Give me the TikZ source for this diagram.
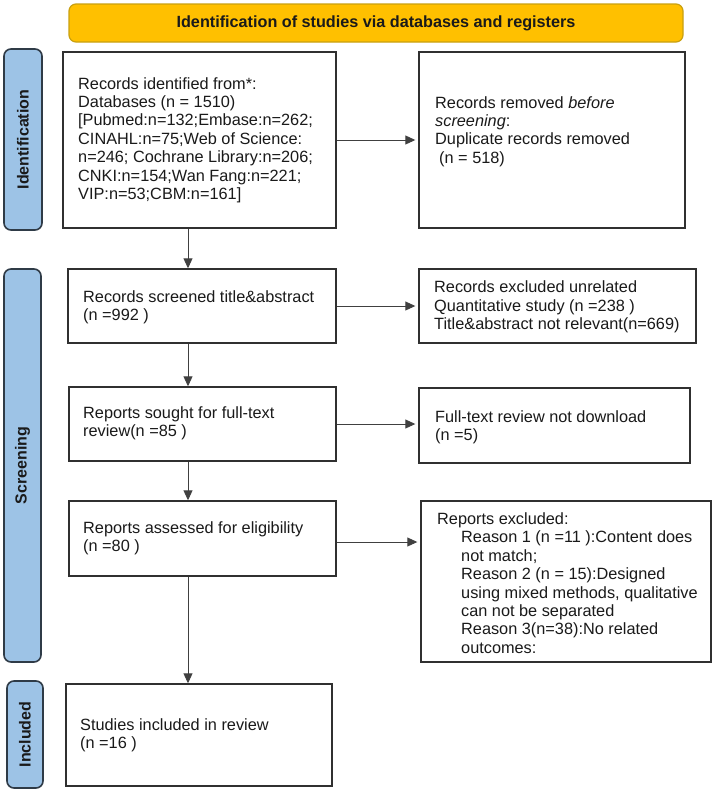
\documentclass[tikz,border=0pt]{standalone}
\usepackage{fontspec}
\setmainfont{Liberation Sans}
\usetikzlibrary{arrows.meta}
\definecolor{bannerfill}{HTML}{FFC000}
\definecolor{bannerline}{HTML}{C9A010}
\definecolor{sidefill}{HTML}{9DC3E6}
\definecolor{sideline}{HTML}{2F3B47}
\definecolor{boxline}{HTML}{303030}
\definecolor{arrline}{HTML}{404040}
\definecolor{txtcol}{HTML}{1A1A1A}
\begin{document}
\begin{tikzpicture}[x=1pt,y=-1pt,
  box/.style={draw=boxline, line width=1.4pt, fill=white, inner sep=0pt},
  banner/.style={draw=bannerline, line width=1.2pt, fill=bannerfill, rounded corners=7pt, inner sep=0pt,
     font=\bfseries\fontsize{16.2}{18.4}\selectfont, text=txtcol},
  side/.style={draw=sideline, line width=1.6pt, fill=sidefill, rounded corners=7pt, inner sep=0pt},
  sidetxt/.style={rotate=90, inner sep=0pt, font=\bfseries\fontsize{16}{18.4}\selectfont, text=txtcol},
  txt/.style={anchor=west, align=left, inner sep=0pt, font=\fontsize{16.3}{18.4}\selectfont, text=txtcol},
  arr/.style={draw=arrline, line width=0.9pt, -{Triangle[length=10pt,width=9pt]}}]
\useasboundingbox (0,0) rectangle (714,793);
\fill[white] (0,0) rectangle (714,793);

% banner and side labels
\node[banner, minimum width=614pt, minimum height=38pt] (ban) at (376,23) {Identification of studies via databases and registers};
\node[side, minimum width=38pt, minimum height=181pt] (sid) at (23,139.5) {};
\node[sidetxt] (sidt) at (sid.center) {Identification};
\node[side, minimum width=37pt, minimum height=393pt] (sscr) at (22.5,465.5) {};
\node[sidetxt] (sscrt) at (sscr.center) {Screening};
\node[side, minimum width=36pt, minimum height=107pt] (sinc) at (25,734.5) {};
\node[sidetxt] (sinct) at (sinc.center) {Included};

% boxes
\node[box, minimum width=273pt, minimum height=176pt] (b1) at (199.5,140) {};
\node[box, minimum width=266pt, minimum height=176pt] (b2) at (552,140) {};
\node[box, minimum width=268pt, minimum height=74pt] (b3) at (202,306) {};
\node[box, minimum width=277pt, minimum height=74pt] (b4) at (557.5,306) {};
\node[box, minimum width=267pt, minimum height=74pt] (b5) at (202.5,424) {};
\node[box, minimum width=271pt, minimum height=75pt] (b6) at (554.5,425.5) {};
\node[box, minimum width=267pt, minimum height=75pt] (b7) at (202.5,538.5) {};
\node[box, minimum width=290pt, minimum height=161pt] (b8) at (566,581.5) {};
\node[box, minimum width=266pt, minimum height=102pt] (b9) at (199,735) {};

% texts
\node[txt] (t1) at (78,140) {Records identified from*:\\Databases (n = 1510)\\{[}Pubmed:n=132;Embase:n=262;\\CINAHL:n=75;Web of Science:\\n=246; Cochrane Library:n=206;\\CNKI:n=154;Wan Fang:n=221;\\VIP:n=53;CBM:n=161]};
\node[txt] (t2) at (435,131.5) {Records removed \textit{before}\\\textit{screening}:\\Duplicate records removed\\\hspace*{4pt}(n = 518)};
\node[txt] (t3) at (83,307) {Records screened title\&abstract\\(n =992 )};
\node[txt] (t4) at (434,307) {Records excluded unrelated\\Quantitative study (n =238 )\\Title\&abstract not relevant(n=669)};
\node[txt] (t5) at (83,423.5) {Reports sought for full-text\\review(n =85 )};
\node[txt] (t6) at (435,427) {Full-text review not download\\(n =5)};
\node[txt] (t7) at (83,538.5) {Reports assessed for eligibility\\(n =80 )};
\node[txt] (t8) at (437,583) {Reports excluded:\\\hspace*{24pt}Reason 1 (n =11 ):Content does\\\hspace*{24pt}not match;\\\hspace*{24pt}Reason 2 (n = 15):Designed\\\hspace*{24pt}using mixed methods, qualitative\\\hspace*{24pt}can not be separated\\\hspace*{24pt}Reason 3(n=38):No related\\\hspace*{24pt}outcomes:};
\node[txt] (t9) at (80,735.5) {Studies included in review\\(n =16 )};

% connectors
\coordinate (ax) at (188,0);
\draw[arr] (b1.south -| ax) -- (b3.north -| ax);
\draw[arr] (b3.south -| ax) -- (b5.north -| ax);
\draw[arr] (b5.south -| ax) -- (b7.north -| ax);
\draw[arr] (b7.south -| ax) -- (b9.north -| ax);
\draw[arr, shorten >=3pt] (b1.east) -- (b2.west);
\draw[arr, shorten >=3pt] (b3.east) -- (b4.west);
\draw[arr, shorten >=3pt] (b5.east) -- (b5.east -| b6.west);
\coordinate (a7) at ([yshift=-3.5pt]b7.east);
\draw[arr, shorten >=3pt] (a7) -- (a7 -| b8.west);
\end{tikzpicture}
\end{document}
